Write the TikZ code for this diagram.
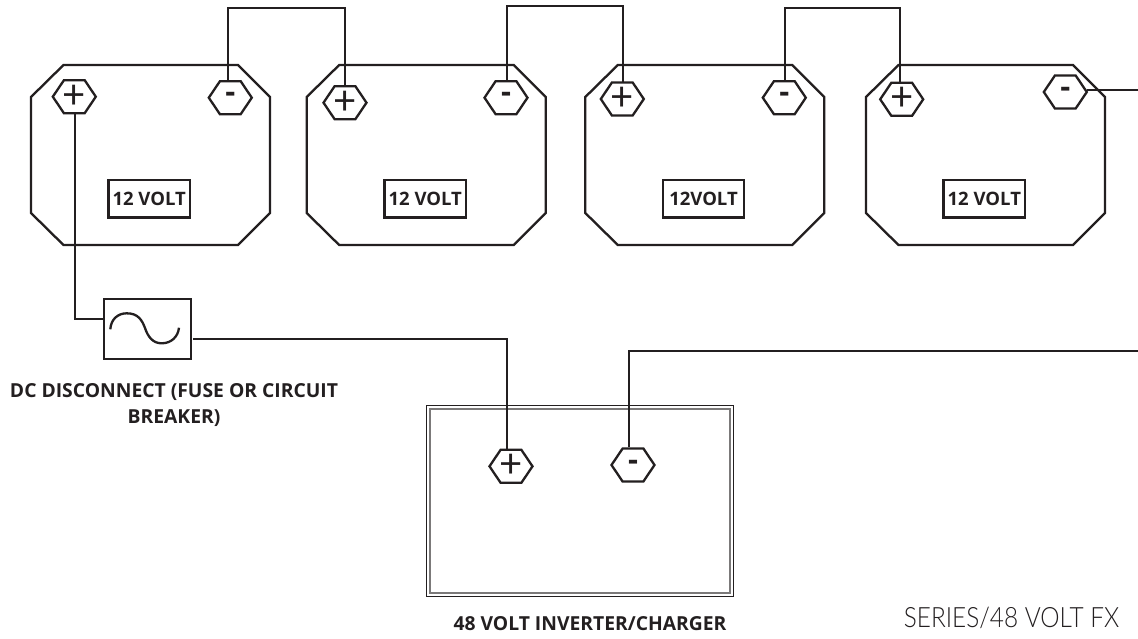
\documentclass[tikz,border=0pt]{standalone}
\usepackage{fontspec}
\setmainfont{Open Sans}
\newfontfamily\lightfont[FakeStretch=0.87]{Lato Light}
\newfontfamily\plusfont{Lato}
\usetikzlibrary{shapes.symbols}
\definecolor{ink}{HTML}{231F20}
\tikzset{
  x=1pt,y=-1pt,
  wire/.style={draw=ink,line width=2.3pt},
  term/.style={signal,signal to=west and east,signal pointer angle=112,draw=ink,line width=2.3pt,
    minimum width=43pt,minimum height=33pt,inner sep=0pt,text=ink},
  plusterm/.style={term,label={[inner sep=0pt,text=ink,font=\plusfont\fontsize{40}{40}\selectfont]center:+}},
  minusterm/.style={term,font=\bfseries\fontsize{31}{31}\selectfont},
  volt/.style={draw=ink,line width=2.2pt,minimum width=81.5pt,minimum height=37.5pt,inner sep=0pt,text=ink,font=\bfseries\fontsize{18.5}{18.5}\selectfont},
  captext/.style={text=ink,font=\bfseries\fontsize{19.3}{26}\selectfont,align=center,inner sep=0pt},
}
\begin{document}
\begin{tikzpicture}
\useasboundingbox (0,0) rectangle (1138,638);
\fill[white] (0,0) rectangle (1138,638);
% battery outlines
\foreach \bx in {31,306.7,585.3,866}{
  \draw[wire] (\bx+32.5,65) -- (\bx+207,65) -- (\bx+239,97) -- (\bx+239,213) -- (\bx+207,245) -- (\bx+32.5,245) -- (\bx,213) -- (\bx,97) -- cycle;
}
% voltage labels
\node[volt] (va) at (149.2,198.8) {12 VOLT};
\node[volt] (vb) at (425.3,198.8) {12 VOLT};
\node[volt] (vc) at (703.5,198.8) {12VOLT};
\node[volt] (vd) at (984.3,198.8) {12 VOLT};
% inverter
\node[draw=ink,line width=.9pt,minimum width=307pt,minimum height=191pt,inner sep=0pt] (inv) at (580,501) {};
\node[draw=ink!60,line width=1.9pt,minimum width=300pt,minimum height=184pt,inner sep=0pt] (invi) at (580,501) {};
% terminals
\node[plusterm] (ap) at (74.3,96.7) {};
\node[minusterm] (am) at (230.3,97.7) {-};
\node[plusterm] (bp) at (345,102.7) {};
\node[minusterm] (bm) at (506,97.7) {-};
\node[plusterm] (cp) at (622.3,99) {};
\node[minusterm] (cm) at (784.3,97.7) {-};
\node[plusterm] (dp) at (901.7,99.3) {};
\node[minusterm] (dm) at (1065.3,92) {-};
\node[plusterm] (ip) at (511,466.3) {};
\node[minusterm] (im) at (633,465) {-};
% disconnect
\node[draw=ink,line width=2.3pt,minimum width=87pt,minimum height=60pt,inner sep=0pt] (dc) at (147.3,329.3) {};
\draw[line width=2.3pt,draw=ink] (110.3,329.3) .. controls (111,319) and (118,313.3) .. (126.7,313.3) .. controls (138,313.3) and (142,320) .. (145,328) .. controls (148,337) and (153,343.3) .. (161.7,343.3) .. controls (171,343.3) and (178,337) .. (179,327.7);
% captions
\node[captext] (dctext) at (174,405) {DC DISCONNECT (FUSE OR CIRCUIT\\BREAKER)};
\node[captext] (invtext) at (590,624) {48 VOLT INVERTER/CHARGER};
\node[text=ink,inner sep=0pt,font=\lightfont\fontsize{28}{28}\selectfont] (title) at (1011.5,618) {SERIES/48 VOLT FX};
% wires
\coordinate (r1) at (1138,90.3);
\coordinate (r2) at (1138,351);
\coordinate (j1) at (228.3,8);
\coordinate (j2) at (507,6.3);
\coordinate (j3) at (785,8.3);
\coordinate (s1) at (75.3,319.3);
\coordinate (s2) at (507.3,339.3);
\coordinate (s3) at (629.3,351);
\draw[wire] (j1 |- am.north) -- (j1) -- (j1 -| bp) -- (bp.north);
\draw[wire] (j2 |- bm.north) -- (j2) -- (j2 -| 622.7,0) -- (622.7,81.6);
\draw[wire] (j3 |- cm.north) -- (j3) -- (j3 -| 900.3,0) -- (900.3,82);
\draw[wire] (1086.7,90.3) -- (r1);
\draw[wire] (s1 |- ap.south) -- (s1) -- (s1 -| dc.west);
\draw[wire] (193.3,339.3) -- (s2) -- (s2 |- ip.north);
\draw[wire] (s3 |- im.north) -- (s3) -- (r2);
\end{tikzpicture}
\end{document}
